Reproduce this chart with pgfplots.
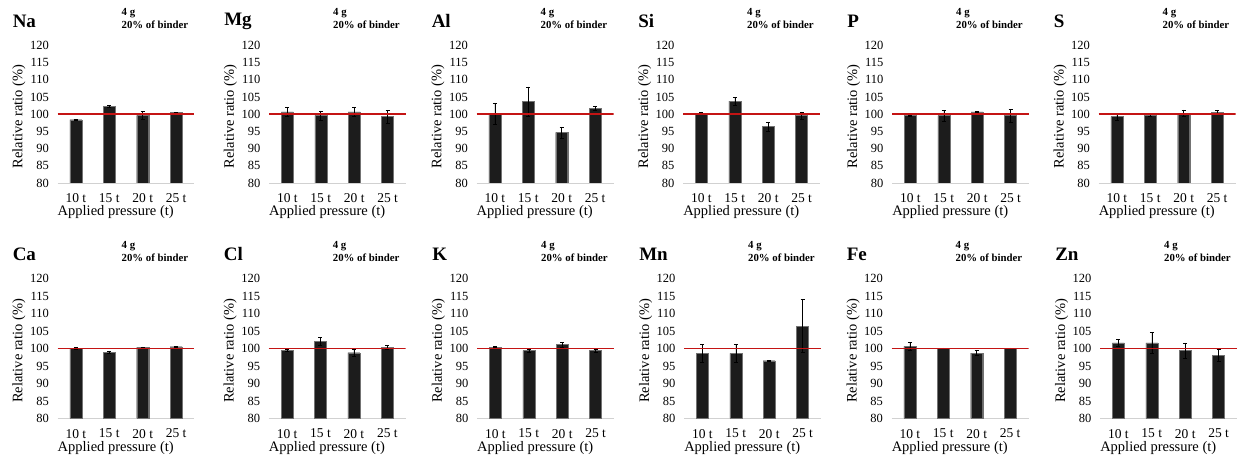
\documentclass[border=0pt]{standalone}
\usepackage{fontspec}
\setmainfont{Liberation Serif}
\usepackage{pgfplots}
\pgfplotsset{compat=1.18}
\definecolor{barc}{RGB}{28,28,28}
\definecolor{refred}{RGB}{196,20,20}
\pgfplotsset{
  elem/.style={
    scale only axis, width=137pt,
    xmin=-0.55, xmax=3.55, ymin=80, ymax=120,
    ytick={80,85,...,120},
    xtick={0,1,2,3}, xticklabels={10 t,15 t,20 t,25 t},
    axis x line*=bottom, axis y line*=left,
    x axis line style={draw=black!18, line width=0.8pt, -},
    y axis line style={draw=none},
    major tick length=0pt,
    clip mode=individual,
    /pgf/number format/assume math mode=true,
    yticklabel style={font=\fontsize{12.5}{14}\selectfont, xshift=-5pt},
    xticklabel style={font=\fontsize{13.5}{15}\selectfont, yshift=-7pt},
    xlabel={Applied pressure (t)},
    ylabel={Relative ratio (\%)},
    xlabel style={font=\fontsize{14.5}{16}\selectfont, at={(axis description cs:0.425,0)}, anchor=center, yshift=-29.5pt},
    ylabel style={font=\fontsize{14.5}{16}\selectfont, at={(axis description cs:-0.281,0.483)}, anchor=center},
  },
  top/.style={elem, height=137.5pt},
  bot/.style={elem, height=140pt},
  bars/.style={ybar, bar width=12pt, fill=barc, draw=black!55, line width=0.3pt,
    error bars/.cd, y dir=both, y explicit, error bar style={black, line width=0.6pt}},
  refline/.style={refred, line width=1.8pt, forget plot},
}
\newcommand{\hdr}[1]{%
  \node[anchor=west, inner sep=0pt, yshift=24.5pt, font=\fontsize{19}{21}\selectfont\bfseries] at (axis description cs:-0.328,1) {#1};
  \node[anchor=base west, inner sep=0pt, yshift=30pt, font=\fontsize{10.8}{12}\selectfont\bfseries] at (axis description cs:0.467,1) {4 g};
  \node[anchor=base west, inner sep=0pt, yshift=17.3pt, font=\fontsize{10.8}{12}\selectfont\bfseries] at (axis description cs:0.467,1) {20\% of binder};
}
\begin{document}
\begin{tikzpicture}
\path[use as bounding box] (0,0) rectangle (1238pt,462pt);
% ---------- top row ----------
\begin{axis}[top, at={(57.5pt,279pt)}, anchor=south west]
\addplot[bars] coordinates {(0,98.4) +- (0,0.15) (1,102.3) +- (0,0.35) (2,99.7) +- (0,1.2) (3,100.5) +- (0,0.15)};
\addplot[refline] coordinates {(-0.55,100) (3.55,100)};
\hdr{Na}
\end{axis}
\begin{axis}[top, at={(269pt,279pt)}, anchor=south west]
\addplot[bars] coordinates {(0,100.7) +- (0,1.4) (1,99.7) +- (0,1.3) (2,100.7) +- (0,1.4) (3,99.3) +- (0,1.9)};
\addplot[refline] coordinates {(-0.55,100) (3.55,100)};
\hdr{Mg}
\end{axis}
\begin{axis}[top, at={(476.5pt,279pt)}, anchor=south west]
\addplot[bars] coordinates {(0,100.2) +- (0,3.1) (1,103.7) +- (0,4.3) (2,94.7) +- (0,1.6) (3,101.7) +- (0,0.6)};
\addplot[refline] coordinates {(-0.55,100) (3.55,100)};
\hdr{Al}
\end{axis}
\begin{axis}[top, at={(683pt,279pt)}, anchor=south west]
\addplot[bars] coordinates {(0,100.3) +- (0,0.4) (1,103.8) +- (0,1.2) (2,96.4) +- (0,1.4) (3,99.7) +- (0,1.0)};
\addplot[refline] coordinates {(-0.55,100) (3.55,100)};
\hdr{Si}
\end{axis}
\begin{axis}[top, at={(892pt,279pt)}, anchor=south west]
\addplot[bars] coordinates {(0,99.6) +- (0,0.2) (1,99.6) +- (0,1.5) (2,100.7) +- (0,0.1) (3,99.6) +- (0,1.8)};
\addplot[refline] coordinates {(-0.55,100) (3.55,100)};
\hdr{P}
\end{axis}
\begin{axis}[top, at={(1098.5pt,279pt)}, anchor=south west]
\addplot[bars] coordinates {(0,99.3) +- (0,1.0) (1,99.7) +- (0,0.3) (2,100.3) +- (0,1.0) (3,100.5) +- (0,0.6)};
\addplot[refline] coordinates {(-0.55,100) (3.55,100)};
\hdr{S}
\end{axis}
% ---------- bottom row ----------
\begin{axis}[bot, at={(57.5pt,43.5pt)}, anchor=south west]
\addplot[bars] coordinates {(0,100.0) +- (0,0.3) (1,98.9) +- (0,0.2) (2,100.3) +- (0,0.15) (3,100.5) +- (0,0.15)};
\addplot[refline] coordinates {(-0.55,100) (3.55,100)};
\hdr{Ca}
\end{axis}
\begin{axis}[bot, at={(268.7pt,43.5pt)}, anchor=south west]
\addplot[bars] coordinates {(0,99.4) +- (0,0.3) (1,102.0) +- (0,1.2) (2,98.8) +- (0,1.1) (3,100.3) +- (0,0.5)};
\addplot[refline] coordinates {(-0.55,100) (3.55,100)};
\hdr{Cl}
\end{axis}
\begin{axis}[bot, at={(477pt,43.5pt)}, anchor=south west]
\addplot[bars] coordinates {(0,100.4) +- (0,0.15) (1,99.4) +- (0,0.5) (2,101.1) +- (0,0.6) (3,99.4) +- (0,0.5)};
\addplot[refline] coordinates {(-0.55,100) (3.55,100)};
\hdr{K}
\end{axis}
\begin{axis}[bot, at={(684pt,43.5pt)}, anchor=south west]
\addplot[bars] coordinates {(0,98.6) +- (0,2.5) (1,98.6) +- (0,2.5) (2,96.5) +- (0,0.2) (3,106.4) +- (0,7.6)};
\addplot[refline] coordinates {(-0.55,100) (3.55,100)};
\hdr{Mn}
\end{axis}
\begin{axis}[bot, at={(891.5pt,43.5pt)}, anchor=south west]
\addplot[bars] coordinates {(0,100.6) +- (0,1.2) (1,100.1) +- (0,0.1) (2,98.7) +- (0,0.7) (3,100.1) +- (0,0.1)};
\addplot[refline] coordinates {(-0.55,100) (3.55,100)};
\hdr{Fe}
\end{axis}
\begin{axis}[bot, at={(1100pt,43.5pt)}, anchor=south west]
\addplot[bars] coordinates {(0,101.6) +- (0,1.0) (1,101.6) +- (0,3.0) (2,99.4) +- (0,2.2) (3,98.0) +- (0,1.7)};
\addplot[refline] coordinates {(-0.55,100) (3.55,100)};
\hdr{Zn}
\end{axis}
\end{tikzpicture}
\end{document}
